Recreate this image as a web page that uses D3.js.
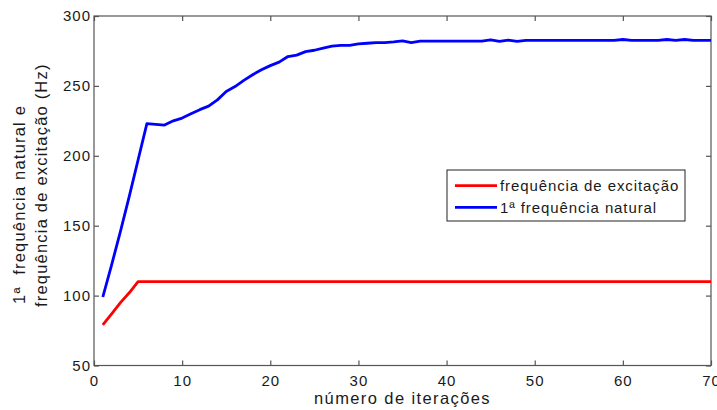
<!DOCTYPE html>
<html>
<head>
<meta charset="utf-8">
<script src="https://cdn.jsdelivr.net/npm/d3@7"></script>
<style>
  html, body { margin: 0; padding: 0; background: #fff; }
  svg { display: block; font-family: "Liberation Sans", Arial, sans-serif; }
</style>
</head>
<body>
<svg id="chart" width="717" height="410"></svg>
<script>
// Iteration index for each recorded step
const iterations = d3.range(1, 71);

// Excitation frequency (Hz) per iteration
const excitationHz = [
  79, 87, 95, 102, 110, 110, 110, 110, 110, 110,
  110, 110, 110, 110, 110, 110, 110, 110, 110, 110,
  110, 110, 110, 110, 110, 110, 110, 110, 110, 110,
  110, 110, 110, 110, 110, 110, 110, 110, 110, 110,
  110, 110, 110, 110, 110, 110, 110, 110, 110, 110,
  110, 110, 110, 110, 110, 110, 110, 110, 110, 110,
  110, 110, 110, 110, 110, 110, 110, 110, 110, 110
];

// First natural frequency (Hz) per iteration
const naturalHz = [
  99, 122, 146, 171, 197, 223, 222.5, 222, 225, 227,
  230, 233, 235.5, 240, 246, 249.5, 254, 258, 261.5, 264.5,
  267, 271, 272, 274.5, 275.5, 277, 278.5, 279, 279, 280,
  280.5, 281, 281, 281.5, 282.2, 281, 282, 282, 282, 282,
  282, 282, 282, 282, 283, 281.8, 282.8, 281.8, 282.5, 282.5,
  282.5, 282.5, 282.5, 282.5, 282.5, 282.5, 282.5, 282.5, 282.5, 283.2,
  282.5, 282.5, 282.5, 282.5, 283.2, 282.6, 283.2, 282.5, 282.5, 282.5
];

const xTicks = [0, 10, 20, 30, 40, 50, 60, 70];
const yTicks = [50, 100, 150, 200, 250, 300];

const seriesNames = ["frequência de excitação", "1ª frequência natural"];
const seriesColors = ["#ff0000", "#0000ff"];

const xTitle = "número de iterações";
const yTitleLines = ["1ª  frequência natural e", "frequência de excitação (Hz)"];

const W = 717, H = 410;
const plot = { left: 94, right: 711, top: 16, bottom: 365.5 };

const svg = d3.select("#chart");

const x = d3.scaleLinear().domain([0, 70]).range([plot.left, plot.right]);
const y = d3.scaleLinear().domain([50, 300]).range([plot.bottom, plot.top]);

const axisColor = "#555";
const textColor = "#1a1a1a";

function styleAxis(g, showLabels) {
  g.select(".domain").remove();
  g.selectAll(".tick line").attr("stroke", axisColor).attr("stroke-width", 1.2);
  g.selectAll(".tick text")
    .attr("fill", textColor)
    .style("font-size", "15px")
    .style("letter-spacing", "1px");
  if (!showLabels) g.selectAll(".tick text").remove();
}

// Bottom and left axes with labels, ticks pointing inward
svg.append("g")
  .attr("transform", `translate(0,${plot.bottom})`)
  .call(d3.axisBottom(x).tickValues(xTicks).tickSizeInner(-5).tickSizeOuter(0).tickPadding(9.5))
  .call(g => styleAxis(g, true));

svg.append("g")
  .attr("transform", `translate(${plot.left},0)`)
  .call(d3.axisLeft(y).tickValues(yTicks).tickSizeInner(-5).tickSizeOuter(0).tickPadding(3))
  .call(g => styleAxis(g, true));

// Top and right axes: ticks only
svg.append("g")
  .attr("transform", `translate(0,${plot.top})`)
  .call(d3.axisTop(x).tickValues(xTicks).tickSizeInner(-5).tickSizeOuter(0))
  .call(g => styleAxis(g, false));

svg.append("g")
  .attr("transform", `translate(${plot.right},0)`)
  .call(d3.axisRight(y).tickValues(yTicks).tickSizeInner(-5).tickSizeOuter(0))
  .call(g => styleAxis(g, false));

// Plot frame
svg.append("rect")
  .attr("x", plot.left).attr("y", plot.top)
  .attr("width", plot.right - plot.left).attr("height", plot.bottom - plot.top)
  .attr("fill", "none").attr("stroke", axisColor).attr("stroke-width", 1.2);

// Series lines
const line = d3.line().x((d, i) => x(iterations[i])).y(d => y(d));
[excitationHz, naturalHz].forEach((vals, k) => {
  svg.append("path")
    .datum(vals)
    .attr("d", line)
    .attr("fill", "none")
    .attr("stroke", seriesColors[k])
    .attr("stroke-width", 2.8)
    .attr("stroke-linejoin", "round");
});

// Axis titles
svg.append("text")
  .attr("x", (plot.left + plot.right) / 2)
  .attr("y", 404)
  .attr("text-anchor", "middle")
  .attr("fill", textColor)
  .style("font-size", "16.5px")
  .style("letter-spacing", "1.4px")
  .text(xTitle);

const yTitleX = [25, 47];
yTitleLines.forEach((t, i) => {
  svg.append("text")
    .attr("transform", `translate(${yTitleX[i]},${i === 0 ? 304 : 307}) rotate(-90)`)
    .attr("text-anchor", "start")
    .attr("xml:space", "preserve")
    .style("white-space", "pre")
    .attr("fill", textColor)
    .style("font-size", "16.5px")
    .style("letter-spacing", "1.2px")
    .text(t);
});

// Legend
const legend = svg.append("g");
legend.append("rect")
  .attr("x", 447).attr("y", 170)
  .attr("width", 238).attr("height", 51)
  .attr("fill", "#fff").attr("stroke", "#222").attr("stroke-width", 1);

seriesNames.forEach((name, i) => {
  const cy = 185.7 + i * 21.6;
  legend.append("line")
    .attr("x1", 455).attr("x2", 497)
    .attr("y1", cy).attr("y2", cy)
    .attr("stroke", seriesColors[i]).attr("stroke-width", 2.8);
  legend.append("text")
    .attr("x", 500).attr("y", cy + 5.3)
    .attr("fill", textColor)
    .style("font-size", "15px")
    .style("letter-spacing", "0.9px")
    .text(name);
});
</script>
</body>
</html>
